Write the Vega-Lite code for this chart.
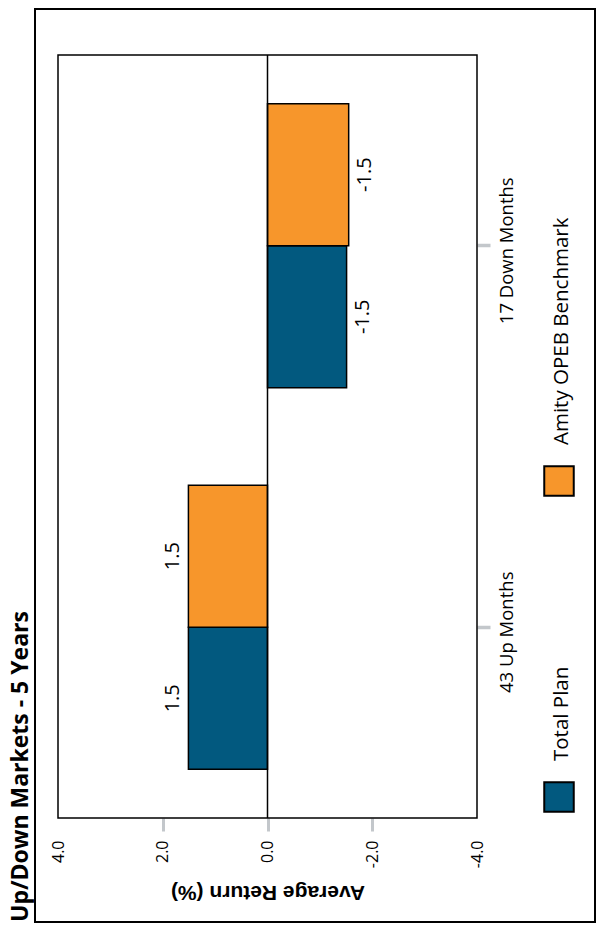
{
  "$schema": "https://vega.github.io/schema/vega-lite/v6.json",
  "width": 560,
  "height": 913,
  "autosize": {"type": "none"},
  "padding": {"left": 35, "top": 9, "right": 2, "bottom": 8},
  "background": "white",
  "title": {"text": "Up/Down Markets - 5 Years", "orient": "left", "anchor": "start", "font": "Open Sans", "fontSize": 23, "fontWeight": "bold", "color": "black", "offset": 2},
  "config": {"view": {"stroke": "black", "strokeWidth": 2}, "font": "Open Sans"},
  "resolve": {"scale": {"x": "independent", "y": "independent"}},
  "layer": [
    {
      "data": {"values": [
        {"period": "43 Up Months", "series": "Total Plan", "value": 1.51, "label": "1.5"},
        {"period": "43 Up Months", "series": "Amity OPEB Benchmark", "value": 1.51, "label": "1.5"},
        {"period": "17 Down Months", "series": "Total Plan", "value": -1.51, "label": "-1.5"},
        {"period": "17 Down Months", "series": "Amity OPEB Benchmark", "value": -1.55, "label": "-1.5"}
      ]},
      "encoding": {
        "x": {"field": "value", "type": "quantitative",
          "scale": {"domain": [-4, 4], "range": [442, 23], "nice": false, "zero": false},
          "axis": {"title": "Average Return (%)", "titleAngle": 180, "titleFont": "Liberation Sans", "titleFontSize": 21, "titleFontWeight": "bold", "titleColor": "black", "titleBaseline": "bottom", "titlePadding": 14,
            "offset": -104, "domain": false, "grid": false, "values": [4, 2, 0, -2, -4],
            "labelExpr": "(datum.value < 0 ? '-' : '') + format(abs(datum.value), '.1f')",
            "labelAngle": 270, "labelAlign": "right", "labelBaseline": "middle", "labelFont": "Open Sans", "labelFontSize": 16, "labelColor": "black", "labelPadding": 9, "labelFlush": false, "labelOverlap": false,
            "tickColor": "#c3c7cb", "tickWidth": 3, "tickSize": 13, "tickOpacity": {"expr": "abs(datum.value) < 4 ? 1 : 0"}}},
        "y": {"field": "period", "type": "nominal", "sort": ["17 Down Months", "43 Up Months"],
          "scale": {"domain": ["17 Down Months", "43 Up Months"], "range": [46, 809], "paddingInner": 0.255, "paddingOuter": 0.1275},
          "axis": {"orient": "right", "offset": -118, "title": null, "domain": false, "grid": false, "labelAngle": 270, "labelAlign": "center", "labelBaseline": "top", "labelFont": "Open Sans", "labelFontSize": 18.5, "labelColor": "black", "labelPadding": 7, "labelOffset": 5, "labelLimit": 400, "tickColor": "#c3c7cb", "tickWidth": 3.5, "tickSize": 13}},
        "yOffset": {"field": "series", "type": "nominal", "scale": {"domain": ["Amity OPEB Benchmark", "Total Plan"], "paddingInner": 0, "paddingOuter": 0}}
      },
      "layer": [
        {
          "mark": {"type": "bar", "stroke": "black", "strokeWidth": 1.5},
          "encoding": {
            "color": {"field": "series", "type": "nominal",
              "scale": {"domain": ["Amity OPEB Benchmark", "Total Plan"], "range": ["#f7962b", "#02597f"]},
              "legend": null}
          }
        },
        {
          "transform": [{"filter": "datum.value > 0"}],
          "mark": {"type": "text", "angle": 270, "align": "center", "baseline": "bottom", "dy": -5, "fontSize": 20, "font": "Open Sans", "color": "black"},
          "encoding": {"text": {"field": "label"}}
        },
        {
          "transform": [{"filter": "datum.value < 0"}],
          "mark": {"type": "text", "angle": 270, "align": "center", "baseline": "top", "dy": 6, "fontSize": 20, "font": "Open Sans", "color": "black"},
          "encoding": {"text": {"field": "label"}}
        }
      ]
    },
    {
      "data": {"values": [{}]},
      "layer": [
        {
          "mark": {"type": "rect", "fillOpacity": 0, "stroke": "black", "strokeWidth": 1.5},
          "encoding": {
            "x": {"datum": 4, "type": "quantitative", "scale": {"domain": [-4, 4], "range": [442, 23], "nice": false, "zero": false}, "axis": null},
            "x2": {"datum": -4},
            "y": {"datum": 0, "type": "quantitative", "scale": {"domain": [0, 1], "range": [46, 809], "nice": false}, "axis": null},
            "y2": {"datum": 1}
          }
        },
        {
          "mark": {"type": "rule", "stroke": "black", "strokeWidth": 1.5},
          "encoding": {
            "x": {"datum": 0, "type": "quantitative", "scale": {"domain": [-4, 4], "range": [442, 23], "nice": false, "zero": false}, "axis": null},
            "y": {"datum": 0, "type": "quantitative", "scale": {"domain": [0, 1], "range": [46, 809], "nice": false}, "axis": null},
            "y2": {"datum": 1}
          }
        }
      ]
    },
    {
      "data": {"values": [
        {"series": "Amity OPEB Benchmark"},
        {"series": "Total Plan"}
      ]},
      "encoding": {
        "x": {"datum": "legend", "type": "nominal", "scale": {"type": "point", "domain": ["legend"], "range": [524, 524], "padding": 0}, "axis": null},
        "y": {"field": "series", "type": "nominal", "scale": {"type": "point", "domain": ["Amity OPEB Benchmark", "Total Plan"], "range": [472, 788], "padding": 0}, "axis": null}
      },
      "layer": [
        {
          "mark": {"type": "square", "size": 870, "filled": true, "stroke": "black", "strokeWidth": 2, "opacity": 1},
          "encoding": {"color": {"field": "series", "type": "nominal", "legend": null}}
        },
        {
          "mark": {"type": "text", "angle": 270, "align": "left", "baseline": "middle", "dx": 36, "dy": 3, "fontSize": 20.5, "font": "Open Sans", "color": "black"},
          "encoding": {"text": {"field": "series"}}
        }
      ]
    }
  ]
}
